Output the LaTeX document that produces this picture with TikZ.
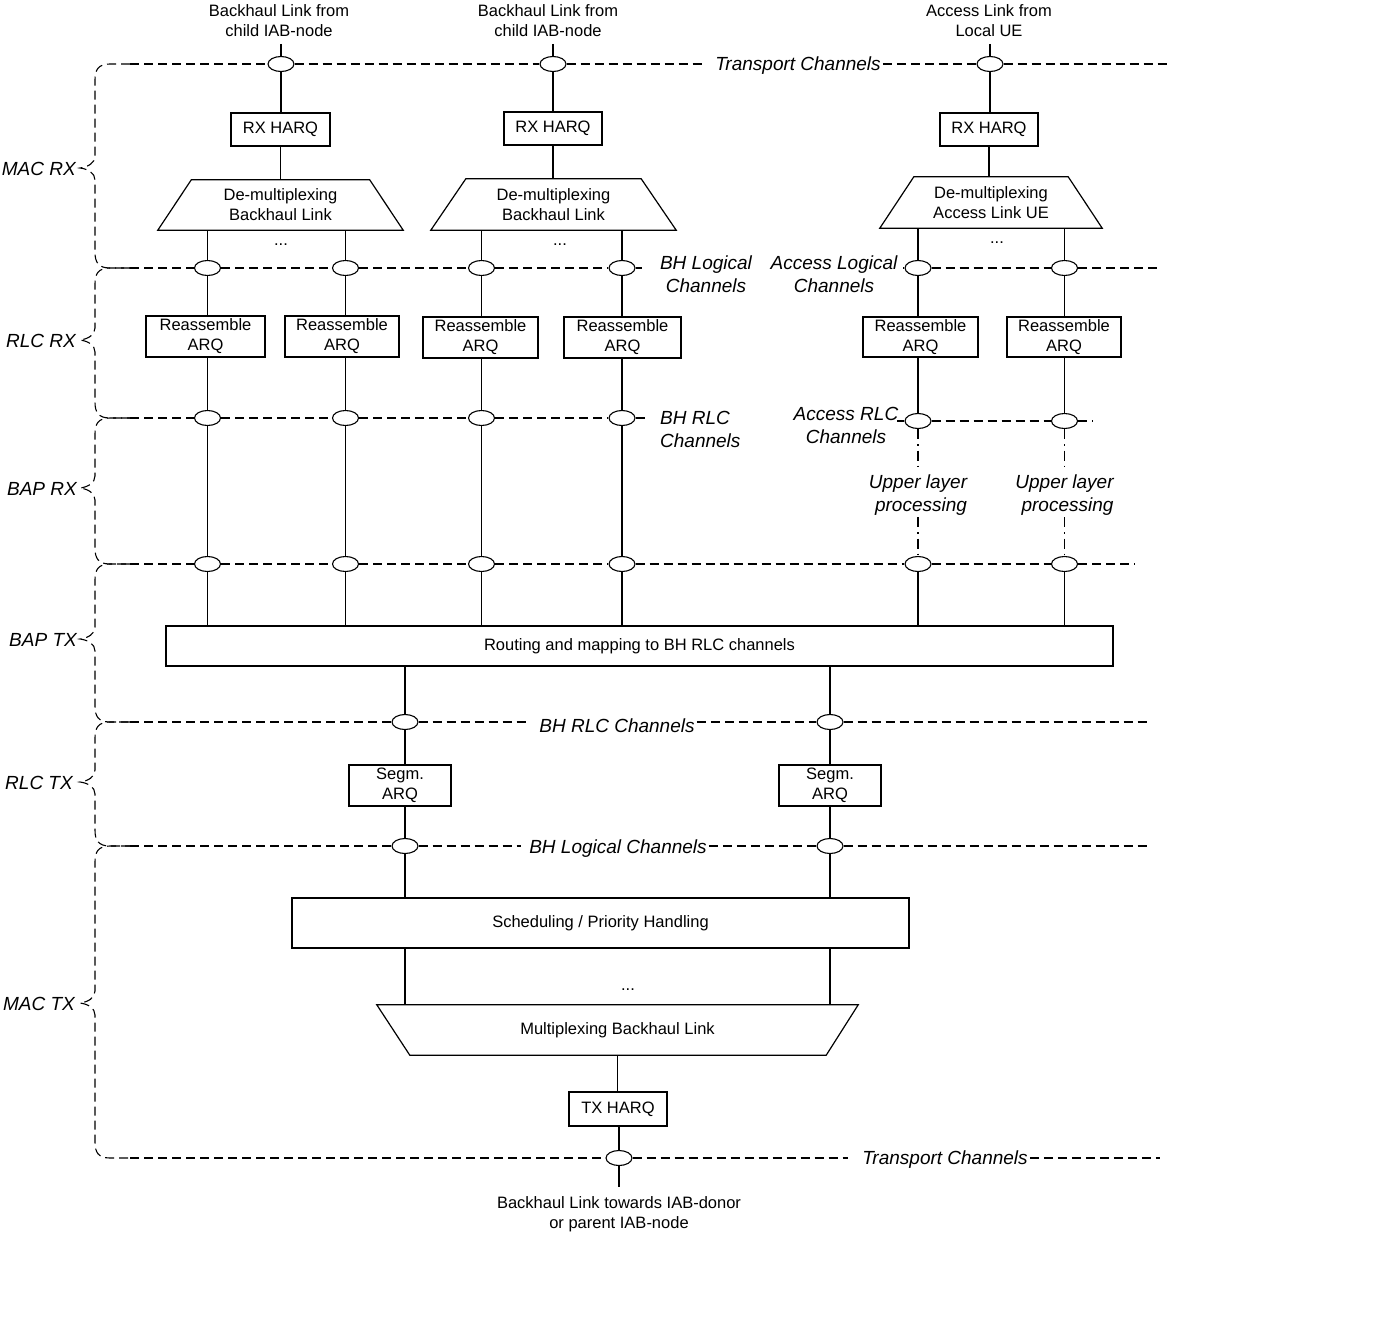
\documentclass[tikz,border=0pt]{standalone}
\usepackage{fontspec}
\setmainfont{Liberation Sans}
\usetikzlibrary{shapes.geometric}
\newcommand\dgn{\fontsize{16.5}{20}\selectfont}
\newcommand\dgi{\fontsize{19}{23}\selectfont\itshape}
\newcommand\dgbrace[3]{\draw[dl] (130,#1) -- (110,#1) .. controls (98,#1) and (95,#1+6) .. (95,#1+16) -- (95,#2-12) .. controls (95,#2-5) and (88,#2-1) .. (80,#2) .. controls (88,#2+1) and (95,#2+5) .. (95,#2+12) -- (95,#3-16) .. controls (95,#3-6) and (98,#3) .. (110,#3) -- (130,#3);}
\begin{document}
\begin{tikzpicture}[x=1pt,y=-1pt,
  ln/.style={line width=1.2pt},
  dl/.style={line width=1.1pt, dash pattern=on 9pt off 5pt},
  dd/.style={line width=1.1pt, dash pattern=on 10pt off 5pt on 1.5pt off 5pt},
  box/.style={draw, line width=1.2pt, align=center, inner sep=0pt, font=\dgn},
  trap/.style={align=center, inner sep=0pt, font=\dgn},
  txt/.style={align=center, inner sep=0pt, font=\dgn},
  lab/.style={align=center, inner sep=2pt, font=\dgi},
  elp/.style={ellipse, draw, fill=white, line width=1.1pt, minimum width=26pt, minimum height=15pt, inner sep=0pt},
]
\useasboundingbox (0,0) rectangle (1388,1338);

% ---------- inputs ----------
\node[txt] (in1) at (279,21) {Backhaul Link from\\child IAB-node};
\node[txt] (in2) at (548,21) {Backhaul Link from\\child IAB-node};
\node[txt] (in3) at (989,21) {Access Link from\\Local UE};
\coordinate (s1) at (281,44);
\coordinate (s2) at (553,44);
\coordinate (s3) at (990,44);

% ---------- MAC RX ----------
\node[elp] (t1) at (281,64) {};
\node[elp] (t2) at (553,64) {};
\node[elp] (t3) at (990,64) {};
\node[lab] (lbT1) at (798,66) {Transport Channels};

\node[box, minimum width=99pt, minimum height=33pt] (h1) at (280.5,129.5) {RX HARQ};
\node[box, minimum width=98pt, minimum height=33pt] (h2) at (553,128.5) {RX HARQ};
\node[box, minimum width=98pt, minimum height=33pt] (h3) at (989,129.5) {RX HARQ};

\node[trap, minimum width=245pt, minimum height=50pt] (d1) at (280.5,205) {De-multiplexing\\Backhaul Link};
\node[trap, minimum width=245pt, minimum height=51pt] (d2) at (553.5,204.5) {De-multiplexing\\Backhaul Link};
\node[trap, minimum width=222pt, minimum height=51pt] (d3) at (991,202.5) {De-multiplexing\\Access Link UE};
\draw[ln] (d1.south west) -- (d1.south east) -- ([xshift=-33.5pt]d1.north east) -- ([xshift=33.5pt]d1.north west) -- cycle;
\draw[ln] (d2.south west) -- (d2.south east) -- ([xshift=-35pt]d2.north east) -- ([xshift=35pt]d2.north west) -- cycle;
\draw[ln] (d3.south west) -- (d3.south east) -- ([xshift=-34pt]d3.north east) -- ([xshift=34pt]d3.north west) -- cycle;
\node[txt, anchor=base] (dot1) at (281,245) {...};
\node[txt, anchor=base] (dot2) at (560,245) {...};
\node[txt, anchor=base] (dot3) at (997,243) {...};

\foreach \i in {1,2,3}{
  \draw[ln] (s\i) -- (t\i.north);
  \draw[ln] (t\i.south) -- (t\i.south |- h\i.north);
  \draw[ln] (h\i.south) -- (h\i.south |- d\i.north);
}

% ---------- RLC RX ----------
\node[elp] (l1) at (207.5,268) {};
\node[elp] (l2) at (345.5,268) {};
\node[elp] (l3) at (481.5,268) {};
\node[elp] (l4) at (622,268) {};
\node[elp] (l5) at (918,268) {};
\node[elp] (l6) at (1064.5,268) {};
\node[lab] (lbL1) at (706,274) {BH Logical\\Channels};
\node[lab] (lbL2) at (834,274) {Access Logical\\Channels};

\node[box, minimum width=119pt, minimum height=41pt] (r1) at (205.5,336.5) {Reassemble\\ARQ};
\node[box, minimum width=114pt, minimum height=41pt] (r2) at (342,336.5) {Reassemble\\ARQ};
\node[box, minimum width=115pt, minimum height=41pt] (r3) at (480.5,337.5) {Reassemble\\ARQ};
\node[box, minimum width=117pt, minimum height=41pt] (r4) at (622.5,337.5) {Reassemble\\ARQ};
\node[box, minimum width=115pt, minimum height=40pt] (r5) at (920.5,337) {Reassemble\\ARQ};
\node[box, minimum width=114pt, minimum height=40pt] (r6) at (1064,337) {Reassemble\\ARQ};

\draw[ln] (l1 |- d1.south) -- (l1.north);
\draw[ln] (l2 |- d1.south) -- (l2.north);
\draw[ln] (l3 |- d2.south) -- (l3.north);
\draw[ln] (l4 |- d2.south) -- (l4.north);
\draw[ln] (l5 |- d3.south) -- (l5.north);
\draw[ln] (l6 |- d3.south) -- (l6.north);

% ---------- BAP RX ----------
\node[elp] (c1) at (207.5,418) {};
\node[elp] (c2) at (345.5,418) {};
\node[elp] (c3) at (481.5,418) {};
\node[elp] (c4) at (622,418) {};
\node[elp] (c5) at (918,421) {};
\node[elp] (c6) at (1064.5,421) {};
\node[lab, align=left, anchor=west] (lbR1) at (658,429) {BH RLC\\Channels};
\node[lab] (lbR2) at (846,425) {Access RLC\\Channels};

\node[elp] (b1) at (207.5,564) {};
\node[elp] (b2) at (345.5,564) {};
\node[elp] (b3) at (481.5,564) {};
\node[elp] (b4) at (622,564) {};
\node[elp] (b5) at (918,564) {};
\node[elp] (b6) at (1064.5,564) {};

\foreach \i in {1,...,6}{
  \draw[ln] (l\i.south) -- (l\i.south |- r\i.north);
  \draw[ln] (c\i |- r\i.south) -- (c\i.north);
}
\foreach \i in {1,...,4}{
  \draw[ln] (c\i.south) -- (b\i.north);
}
\node[lab, inner sep=0pt] (u5) at (918,495) {Upper layer\\\hspace*{6pt}processing};
\node[lab, inner sep=0pt] (u6) at (1064.5,495) {Upper layer\\\hspace*{6pt}processing};
\coordinate (u5a) at (918,470);
\coordinate (u5b) at (918,517);
\coordinate (u6a) at (1064.5,470);
\coordinate (u6b) at (1064.5,517);
\draw[dd] (c5.south) -- (u5a);
\draw[dd] (u5b) -- (b5.north);
\draw[dd] (c6.south) -- (u6a);
\draw[dd] (u6b) -- (b6.north);

% ---------- BAP TX ----------
\node[box, minimum width=947pt, minimum height=40pt] (rt) at (639.5,646) {Routing and mapping to BH RLC channels};
\foreach \i in {1,...,6}{
  \draw[ln] (b\i.south) -- (b\i.south |- rt.north);
}

% ---------- RLC TX ----------
\node[elp] (m1) at (405,722) {};
\node[elp] (m2) at (830,722) {};
\node[lab] (lbR3) at (617,726) {BH RLC Channels};
\node[box, minimum width=102pt, minimum height=41pt] (g1) at (400,785.5) {Segm.\\ARQ};
\node[box, minimum width=102pt, minimum height=41pt] (g2) at (830,785.5) {Segm.\\ARQ};
\node[elp] (n1) at (405,846) {};
\node[elp] (n2) at (830,846) {};
\node[lab] (lbL3) at (618,849) {BH Logical Channels};

% ---------- MAC TX ----------
\node[box, minimum width=617pt, minimum height=50pt] (sc) at (600.5,923) {Scheduling / Priority Handling};
\node[trap, minimum width=481pt, minimum height=50pt] (mx) at (617.5,1030) {Multiplexing Backhaul Link};
\draw[ln] (mx.north west) -- (mx.north east) -- ([xshift=-32pt]mx.south east) -- ([xshift=33pt]mx.south west) -- cycle;
\node[txt, anchor=base] (dot4) at (628,990) {...};
\node[box, minimum width=98pt, minimum height=34pt] (tx) at (618,1109) {TX HARQ};
\node[elp] (z) at (619,1158) {};
\node[lab] (lbT2) at (945,1160) {Transport Channels};
\coordinate (zb) at (619,1187);
\node[txt] (out) at (619,1214) {Backhaul Link towards IAB-donor\\or parent IAB-node};

\foreach \i/\g in {1/g1,2/g2}{
  \draw[ln] (m\i |- rt.south) -- (m\i.north);
  \draw[ln] (m\i.south) -- (m\i.south |- \g.north);
  \draw[ln] (n\i |- \g.south) -- (n\i.north);
  \draw[ln] (n\i.south) -- (n\i.south |- sc.north);
  \draw[ln] (n\i |- sc.south) -- (n\i |- mx.north);
}
\draw[ln] (mx.south) -- (mx.south |- tx.north);
\draw[ln] (tx.south -| z) -- (z.north);
\draw[ln] (z.south) -- (zb);

% ---------- dashed channel lines ----------
\coordinate (ya) at (130,64);
\coordinate (yb) at (130,268);
\coordinate (yc) at (130,418);
\coordinate (yd) at (130,564);
\coordinate (ye) at (130,722);
\coordinate (yf) at (130,846);
\coordinate (yg) at (130,1158);
\coordinate (ea) at (1167,64);
\coordinate (eb1) at (642,268);
\coordinate (sb2) at (903,268);
\coordinate (eb2) at (1160,268);
\coordinate (ec1) at (648,418);
\coordinate (sc2) at (897,421);
\coordinate (ec2) at (1093,421);
\coordinate (ed) at (1135,564);
\coordinate (ee) at (1147,722);
\coordinate (ef) at (1150,846);
\coordinate (eg) at (1160,1158);

\draw[dl] (ya) -- (t1.west);
\draw[dl] (t1.east) -- (t2.west);
\draw[dl] (t2.east) -- ([xshift=-10pt]lbT1.west |- t2);
\draw[dl] (lbT1.east |- t3) -- (t3.west);
\draw[dl] (t3.east) -- (ea);

\draw[dl] (yb) -- (l1.west);
\draw[dl] (l1.east) -- (l2.west);
\draw[dl] (l2.east) -- (l3.west);
\draw[dl] (l3.east) -- (l4.west);
\draw[dl] (l4.east) -- (eb1);
\draw[dl] (sb2) -- (l5.west);
\draw[dl] (l5.east) -- (l6.west);
\draw[dl] (l6.east) -- (eb2);

\draw[dl] (yc) -- (c1.west);
\draw[dl] (c1.east) -- (c2.west);
\draw[dl] (c2.east) -- (c3.west);
\draw[dl] (c3.east) -- (c4.west);
\draw[dl] (c4.east) -- (ec1);
\draw[dl] (sc2) -- (c5.west);
\draw[dl] (c5.east) -- (c6.west);
\draw[dl] (c6.east) -- (ec2);

\draw[dl] (yd) -- (b1.west);
\draw[dl] (b1.east) -- (b2.west);
\draw[dl] (b2.east) -- (b3.west);
\draw[dl] (b3.east) -- (b4.west);
\draw[dl] (b4.east) -- (b5.west);
\draw[dl] (b5.east) -- (b6.west);
\draw[dl] (b6.east) -- (ed);

\draw[dl] (ye) -- (m1.west);
\draw[dl] (m1.east) -- ([xshift=-8pt]lbR3.west |- m1);
\draw[dl] (lbR3.east |- m2) -- (m2.west);
\draw[dl] (m2.east) -- (ee);

\draw[dl] (yf) -- (n1.west);
\draw[dl] (n1.east) -- ([xshift=-6pt]lbL3.west |- n1);
\draw[dl] (lbL3.east |- n2) -- (n2.west);
\draw[dl] (n2.east) -- (ef);

\draw[dl] (yg) -- (z.west);
\draw[dl] (z.east) -- ([xshift=-12pt]lbT2.west |- z);
\draw[dl] (lbT2.east |- z) -- (eg);

% ---------- layer braces ----------
\dgbrace{64}{168}{268}
\dgbrace{268}{340}{418}
\dgbrace{418}{488}{564}
\dgbrace{564}{639}{722}
\dgbrace{722}{782}{846}
\dgbrace{846}{1003}{1158}
\node[lab, anchor=east, inner sep=0pt] (kMR) at (76,169) {MAC RX};
\node[lab, anchor=east, inner sep=0pt] (kRR) at (76,341) {RLC RX};
\node[lab, anchor=east, inner sep=0pt] (kBR) at (77,489) {BAP RX};
\node[lab, anchor=east, inner sep=0pt] (kBT) at (77,640) {BAP TX};
\node[lab, anchor=east, inner sep=0pt] (kRT) at (73,783) {RLC TX};
\node[lab, anchor=east, inner sep=0pt] (kMT) at (75,1004) {MAC TX};
\end{tikzpicture}
\end{document}
